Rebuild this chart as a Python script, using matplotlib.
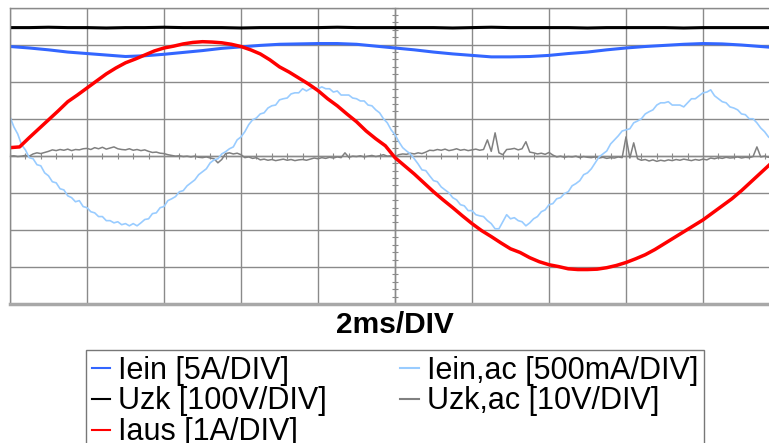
import matplotlib
matplotlib.use("Agg")
import matplotlib.pyplot as plt
import numpy as np
from matplotlib.ticker import MultipleLocator

plt.rcParams['font.family'] = ['Liberation Sans', 'DejaVu Sans']

# Oscilloscope capture, 2 ms/DIV, values in screen divisions (centre line = 0)
t_coarse = np.linspace(0, 20, 41)   # ms, 0.5 ms step
t_mid = np.linspace(0, 20, 81)      # ms, 0.25 ms step
t_fine = np.linspace(0, 20, 201)    # ms, 0.1 ms step

# Iein [5A/DIV]
iein = [2.95, 2.91, 2.86, 2.80, 2.76, 2.72, 2.68, 2.70, 2.74, 2.79,
        2.84, 2.90, 2.94, 2.98, 3.01, 3.02, 3.03, 3.03, 3.01, 2.96,
        2.91, 2.86, 2.80, 2.75, 2.71, 2.67, 2.67, 2.68, 2.71, 2.76,
        2.80, 2.86, 2.91, 2.95, 2.98, 3.01, 3.03, 3.02, 2.99, 2.95,
        2.91]

# Uzk [100V/DIV]
uzk = [3.46, 3.46, 3.47, 3.46, 3.46, 3.45, 3.46, 3.46, 3.47, 3.46,
       3.46, 3.46, 3.45, 3.46, 3.46, 3.46, 3.46, 3.47, 3.46, 3.46,
       3.46, 3.46, 3.46, 3.45, 3.46, 3.47, 3.46, 3.46, 3.46, 3.46,
       3.45, 3.46, 3.46, 3.46, 3.46, 3.45, 3.46, 3.46, 3.46, 3.46,
       3.46]

# Iaus [1A/DIV]
iaus = [0.22, 0.24, 0.49, 0.73, 0.97, 1.21, 1.46, 1.64, 1.83, 2.02,
        2.21, 2.37, 2.51, 2.61, 2.72, 2.83, 2.91, 2.96, 3.02, 3.06,
        3.08, 3.07, 3.05, 3.01, 2.95, 2.86, 2.75, 2.59, 2.40, 2.26,
        2.10, 1.94, 1.76, 1.54, 1.35, 1.13, 0.92, 0.67, 0.46, 0.27,
        -0.05, -0.27, -0.49, -0.73, -0.97, -1.19, -1.40, -1.62, -1.83, -2.02,
        -2.18, -2.35, -2.51, -2.61, -2.75, -2.86, -2.94, -2.99, -3.05, -3.07,
        -3.07, -3.06, -3.02, -2.96, -2.88, -2.78, -2.67, -2.53, -2.37, -2.21,
        -2.05, -1.89, -1.73, -1.54, -1.35, -1.16, -0.94, -0.70, -0.46, -0.22,
        0.03]

# Iein,ac [500mA/DIV]
iein_ac = [1.05, 0.78, 0.59, 0.30, 0.16, -0.05, -0.08, -0.24, -0.27, -0.46,
           -0.54, -0.70, -0.73, -0.89, -0.92, -1.08, -1.13, -1.24, -1.21, -1.37,
           -1.40, -1.51, -1.54, -1.64, -1.64, -1.75, -1.75, -1.81, -1.78, -1.86,
           -1.83, -1.89, -1.83, -1.89, -1.81, -1.72, -1.70, -1.56, -1.54, -1.40,
           -1.37, -1.21, -1.16, -1.10, -0.97, -0.94, -0.81, -0.73, -0.65, -0.51,
           -0.43, -0.35, -0.19, -0.11, -0.08, 0.05, 0.11, 0.19, 0.24, 0.43,
           0.51, 0.65, 0.84, 0.97, 1.02, 1.13, 1.16, 1.29, 1.35, 1.37,
           1.51, 1.54, 1.56, 1.67, 1.70, 1.70, 1.81, 1.75, 1.81, 1.83,
           1.81, 1.86, 1.81, 1.81, 1.72, 1.75, 1.64, 1.64, 1.64, 1.56,
           1.54, 1.48, 1.48, 1.37, 1.35, 1.24, 1.16, 1.00, 0.89, 0.70,
           0.57, 0.38, 0.22, 0.13, 0.05, -0.08, -0.22, -0.38, -0.40, -0.54,
           -0.67, -0.70, -0.84, -0.92, -1.00, -1.13, -1.19, -1.32, -1.35, -1.48,
           -1.48, -1.59, -1.62, -1.64, -1.75, -1.83, -1.97, -1.97, -1.78, -1.59,
           -1.70, -1.67, -1.75, -1.78, -1.89, -1.81, -1.70, -1.64, -1.51, -1.46,
           -1.32, -1.29, -1.16, -1.13, -1.02, -0.97, -0.81, -0.75, -0.67, -0.51,
           -0.46, -0.35, -0.19, -0.03, 0.05, 0.13, 0.32, 0.43, 0.54, 0.67,
           0.70, 0.73, 0.89, 0.94, 1.00, 1.13, 1.19, 1.24, 1.37, 1.43,
           1.43, 1.46, 1.37, 1.37, 1.37, 1.32, 1.43, 1.54, 1.54, 1.62,
           1.70, 1.72, 1.78, 1.62, 1.54, 1.46, 1.43, 1.32, 1.29, 1.24,
           1.13, 1.11, 1.00, 1.00, 0.89, 0.75, 0.65, 0.51, 0.43, 0.35,
           0.27]

# Uzk,ac [10V/DIV]
uzk_ac = [-0.01, 0.00, -0.02, -0.01, 0.01, -0.01, 0.05, 0.08, 0.06, 0.09,
          0.12, 0.16, 0.14, 0.17, 0.15, 0.18, 0.14, 0.17, 0.16, 0.19,
          0.20, 0.17, 0.22, 0.19, 0.23, 0.18, 0.21, 0.24, 0.19, 0.17,
          0.16, 0.19, 0.15, 0.17, 0.14, 0.16, 0.12, 0.09, 0.10, 0.07,
          0.06, 0.03, 0.01, -0.01, 0.00, -0.02, -0.01, -0.03, -0.01, -0.04,
          -0.05, -0.03, -0.06, -0.08, -0.19, -0.10, 0.06, 0.08, 0.05, 0.07,
          0.03, -0.05, -0.03, -0.07, -0.05, -0.11, -0.09, -0.12, -0.10, -0.13,
          -0.11, -0.09, -0.12, -0.10, -0.13, -0.11, -0.10, -0.12, -0.09, -0.06,
          -0.08, -0.05, -0.07, -0.04, -0.06, -0.03, -0.05, 0.08, -0.04, -0.01,
          -0.02, 0.00, -0.03, -0.01, 0.01, -0.02, 0.00, 0.03, -0.01, 0.00,
          -0.02, 0.03, 0.05, 0.04, 0.07, 0.05, 0.08, 0.06, 0.10, 0.15,
          0.14, 0.17, 0.15, 0.18, 0.14, 0.16, 0.19, 0.15, 0.17, 0.14,
          0.16, 0.18, 0.15, 0.17, 0.43, 0.12, 0.62, 0.08, 0.03, 0.17,
          0.18, 0.20, 0.16, 0.19, 0.38, 0.10, 0.08, 0.05, 0.07, 0.04,
          0.09, 0.02, -0.03, -0.01, -0.04, -0.02, -0.03, -0.01, -0.05, -0.02,
          -0.04, -0.05, -0.03, -0.06, -0.04, -0.07, -0.05, -0.06, -0.03, -0.05,
          0.51, -0.06, 0.35, -0.08, -0.12, -0.10, -0.14, -0.11, -0.15, -0.12,
          -0.14, -0.11, -0.13, -0.10, -0.12, -0.09, -0.11, -0.13, -0.10, -0.12,
          -0.09, -0.11, -0.06, -0.08, -0.05, -0.07, -0.04, -0.06, -0.05, -0.03,
          -0.06, -0.04, -0.05, -0.02, 0.24, -0.03, -0.01, -0.04, -0.02, -0.03,
          -0.03]

labels = ["Iein [5A/DIV]", "Uzk [100V/DIV]", "Iaus [1A/DIV]",
          "Iein,ac [500mA/DIV]", "Uzk,ac [10V/DIV]"]

W, H = 769, 443
fig = plt.figure(figsize=(W / 100, H / 100), dpi=100, facecolor='white')
rect = [10 / W, 1 - 304 / H, 770 / W, (304 - 7.6) / H]

# Centre cross with fine ticks (drawn beneath the traces)
axc = fig.add_axes(rect, facecolor='white', zorder=0)
axc.set_xlim(0, 20)
axc.set_ylim(-4, 4)
for s in ('top', 'right'):
    axc.spines[s].set_visible(False)
axc.spines['left'].set_position(('data', 10))
axc.spines['bottom'].set_position(('data', 0))
for s in ('left', 'bottom'):
    axc.spines[s].set_color('#8a8a8a')
    axc.spines[s].set_linewidth(1.0)
axc.xaxis.set_major_locator(MultipleLocator(0.4))
axc.yaxis.set_major_locator(MultipleLocator(0.2))
axc.tick_params(direction='inout', length=5, width=0.8, color='#8a8a8a',
                labelbottom=False, labelleft=False)

# Main screen with grid and traces
ax = fig.add_axes(rect, facecolor='none', zorder=1)
ax.set_xlim(0, 20)
ax.set_ylim(-4, 4)
ax.set_xticks(np.arange(0, 21, 2))
ax.set_yticks(np.arange(-4, 5, 1))
ax.grid(True, color='#8a8a8a', linewidth=1.0)
ax.tick_params(length=0, labelbottom=False, labelleft=False)
for s in ('top', 'left'):
    ax.spines[s].set_color('#8a8a8a')
    ax.spines[s].set_linewidth(1.0)
ax.spines['right'].set_visible(False)
ax.spines['bottom'].set_color('#a8a8a8')
ax.spines['bottom'].set_linewidth(2.5)

l_uzk_ac, = ax.plot(t_fine, uzk_ac, color='#808080', lw=1.1)
l_iein_ac, = ax.plot(t_fine, iein_ac, color='#99ccff', lw=1.2)
l_uzk, = ax.plot(t_coarse, uzk, color='#000000', lw=2.2)
l_iein, = ax.plot(t_coarse, iein, color='#3366ff', lw=2.2)
l_iaus, = ax.plot(t_mid, iaus, color='#ff0000', lw=2.5)

fig.text(395 / W, 1 - 325 / H, "2ms/DIV", ha='center', va='center',
         fontsize=21.5, fontweight='bold')

leg = fig.legend([l_iein, l_uzk, l_iaus, l_iein_ac, l_uzk_ac], labels,
                 ncol=2, loc='upper left', bbox_to_anchor=(86 / W, 1 - 350 / H),
                 fontsize=22, frameon=True, fancybox=False, edgecolor='#555555',
                 handlelength=0.6, handletextpad=0.27, columnspacing=2.4,
                 borderpad=0.18, labelspacing=0.03, borderaxespad=0)
leg.get_frame().set_linewidth(1.0)
for ln in leg.get_lines():
    ln.set_linewidth(1.5)

fig.savefig("out.png", dpi=100, facecolor='white')
